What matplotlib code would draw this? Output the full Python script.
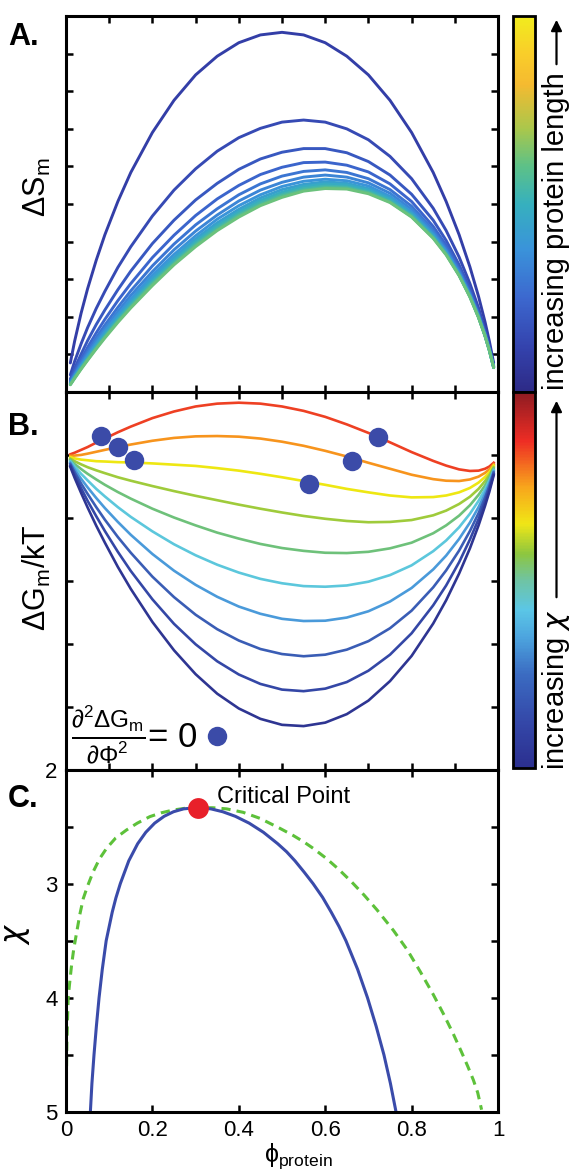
import numpy as np
import matplotlib
matplotlib.use('Agg')
import matplotlib.pyplot as plt
from matplotlib.colors import LinearSegmentedColormap, Normalize
from matplotlib.cm import ScalarMappable
from matplotlib.lines import Line2D
from matplotlib.patches import FancyArrowPatch

plt.rcParams['font.family'] = ['Liberation Sans', 'DejaVu Sans']
plt.rcParams['mathtext.fontset'] = 'dejavusans'

# ---------------- data ----------------
phi = [0.01, 0.02, 0.035, 0.05, 0.07, 0.09, 0.12, 0.15, 0.2, 0.25, 0.3, 0.35, 0.4, 0.45,
       0.5, 0.55, 0.6, 0.65, 0.7, 0.75, 0.8, 0.85, 0.88, 0.91, 0.935, 0.955, 0.97, 0.98, 0.99]

# Panel A: entropy of mixing (x1e-3), protein length N = 1..12
dS_n1 = [56, 98, 152, 199, 254, 303, 367, 423, 500, 562, 611, 647, 673, 688, 693, 688, 673, 647, 611, 562, 500, 423, 367, 303, 241, 184, 135, 98, 56]
dS_n2 = [33, 59, 93, 124, 161, 194, 240, 280, 339, 389, 430, 464, 490, 508, 520, 524, 520, 507, 486, 454, 411, 354, 311, 260, 209, 162, 120, 88, 51]
dS_n3 = [25, 46, 73, 99, 130, 158, 197, 233, 286, 331, 370, 402, 429, 449, 462, 469, 469, 461, 444, 418, 381, 331, 292, 245, 199, 154, 115, 85, 49]
dS_n4 = [21, 39, 64, 86, 114, 140, 176, 209, 259, 302, 340, 372, 398, 419, 433, 442, 443, 437, 424, 401, 367, 319, 283, 238, 193, 151, 113, 83, 49]
dS_n5 = [19, 35, 58, 79, 105, 129, 163, 195, 243, 285, 322, 353, 380, 401, 416, 425, 428, 423, 411, 390, 358, 312, 277, 234, 190, 148, 111, 82, 48]
dS_n6 = [18, 33, 54, 74, 99, 122, 155, 186, 232, 274, 310, 341, 368, 389, 404, 414, 418, 414, 403, 383, 352, 308, 273, 231, 188, 147, 110, 82, 48]
dS_n7 = [17, 31, 51, 70, 94, 117, 149, 179, 225, 265, 301, 333, 359, 380, 396, 406, 410, 407, 397, 377, 347, 304, 271, 229, 187, 146, 109, 81, 47]
dS_n8 = [16, 30, 49, 67, 91, 113, 144, 174, 219, 259, 295, 326, 352, 374, 390, 400, 405, 402, 392, 374, 344, 302, 268, 227, 186, 145, 109, 81, 47]
dS_n9 = [15, 28, 47, 65, 88, 110, 141, 170, 214, 254, 290, 321, 347, 369, 385, 396, 401, 399, 389, 371, 342, 300, 267, 226, 185, 144, 108, 80, 47]
dS_n10 = [15, 28, 46, 64, 86, 107, 138, 167, 211, 250, 286, 317, 343, 365, 381, 392, 397, 395, 386, 368, 340, 298, 266, 225, 184, 144, 108, 80, 47]
dS_n11 = [14, 27, 45, 62, 84, 106, 136, 164, 208, 247, 283, 313, 340, 361, 378, 389, 394, 393, 384, 366, 338, 297, 265, 225, 183, 144, 108, 80, 47]
dS_n12 = [14, 26, 44, 61, 83, 104, 134, 162, 205, 245, 280, 311, 337, 359, 375, 387, 392, 391, 382, 365, 337, 296, 264, 224, 183, 143, 108, 80, 47]

# Panel B: free energy of mixing (x1e-3), chi from high (red) to low (dark blue)
dG_c1 = [2, 7, 16, 25, 39, 52, 72, 90, 117, 138, 154, 163, 166, 163, 154, 140, 121, 97, 70, 40, 9, -19, -34, -46, -51, -50, -44, -37, -25]
dG_c2 = [-3, -2, 0, 4, 10, 16, 25, 33, 45, 54, 59, 60, 58, 52, 42, 29, 13, -5, -25, -44, -63, -77, -82, -83, -78, -69, -57, -46, -30]
dG_c3 = [-7, -11, -15, -17, -20, -21, -23, -24, -27, -31, -35, -42, -50, -60, -71, -83, -95, -108, -119, -129, -135, -134, -129, -119, -105, -88, -70, -55, -34]
dG_c4 = [-12, -20, -30, -39, -49, -58, -71, -82, -99, -115, -130, -144, -158, -171, -183, -194, -203, -210, -214, -213, -207, -192, -177, -156, -133, -108, -83, -64, -39]
dG_c5 = [-16, -29, -45, -60, -78, -95, -118, -139, -171, -199, -224, -247, -266, -283, -296, -305, -311, -312, -308, -297, -279, -249, -224, -193, -160, -127, -97, -72, -43]
dG_c6 = [-20, -37, -60, -81, -108, -132, -166, -197, -243, -284, -319, -349, -374, -394, -408, -417, -419, -415, -403, -382, -351, -306, -272, -230, -187, -146, -110, -81, -48]
dG_c7 = [-25, -46, -76, -103, -137, -169, -213, -254, -315, -368, -413, -451, -482, -505, -521, -528, -527, -517, -497, -466, -423, -364, -320, -267, -215, -166, -123, -90, -52]
dG_c8 = [-29, -55, -91, -124, -166, -206, -261, -311, -387, -452, -508, -554, -590, -617, -633, -640, -635, -619, -592, -551, -495, -421, -367, -304, -242, -185, -136, -99, -56]
dG_c9 = [-34, -64, -106, -146, -195, -242, -308, -369, -459, -537, -602, -656, -698, -728, -746, -751, -743, -722, -686, -635, -567, -478, -415, -341, -269, -204, -149, -108, -61]
dG_c10 = [-38, -73, -121, -167, -225, -279, -356, -426, -531, -621, -697, -759, -806, -839, -858, -862, -851, -824, -781, -719, -639, -536, -462, -377, -297, -224, -162, -117, -65]

# spinodal points marked on the three top curves
spin_phi = [0.080, 0.7215, 0.121, 0.663, 0.158, 0.563]
spin_G = [0.0597, 0.0565, 0.0246, -0.0182, -0.0150, -0.0925]

# Panel C: phase diagram
blue_phi = [0.0564, 0.0600, 0.0648, 0.0703, 0.0765, 0.0840, 0.0930, 0.1070, 0.1155, 0.1257, 0.1453, 0.1659,
            0.1847, 0.2052, 0.2271, 0.2489, 0.2719, 0.3028, 0.3357, 0.3628, 0.3920, 0.4240, 0.4570, 0.4900,
            0.5105, 0.5300, 0.5515, 0.5720, 0.5940, 0.6140, 0.6320, 0.6480, 0.6750, 0.6980, 0.7180, 0.7360,
            0.7510, 0.7640]
blue_chi = [5.0, 4.75, 4.5, 4.25, 4.0, 3.75, 3.5, 3.25, 3.125, 3.0, 2.8, 2.65,
            2.55, 2.47, 2.41, 2.37, 2.345, 2.334, 2.345, 2.37, 2.41, 2.47, 2.55, 2.65,
            2.72, 2.8, 2.9, 3.0, 3.12, 3.25, 3.375, 3.5, 3.75, 4.0, 4.25, 4.5,
            4.75, 5.0]
green_phi = [0.0, 0.002, 0.005, 0.009, 0.013, 0.018, 0.025, 0.032, 0.040, 0.050, 0.063, 0.078, 0.094, 0.115,
             0.140, 0.165, 0.194, 0.220, 0.248, 0.275, 0.306, 0.340, 0.372, 0.410, 0.449, 0.495, 0.526, 0.550,
             0.572, 0.603, 0.630, 0.660, 0.690, 0.720, 0.758, 0.790, 0.820, 0.850, 0.875, 0.897, 0.915, 0.930,
             0.943, 0.953, 0.962]
green_chi = [5.0, 4.4, 4.0, 3.85, 3.71, 3.57, 3.42, 3.27, 3.13, 3.02, 2.895, 2.78, 2.69, 2.60,
             2.53, 2.47, 2.413, 2.38, 2.355, 2.34, 2.334, 2.335, 2.345, 2.375, 2.428, 2.515, 2.578, 2.633,
             2.69, 2.78, 2.87, 2.98, 3.10, 3.23, 3.41, 3.58, 3.77, 3.97, 4.15, 4.32, 4.47, 4.60,
             4.72, 4.83, 4.98]
crit_phi, crit_chi = 0.306, 2.334

dS_curves = [dS_n1, dS_n2, dS_n3, dS_n4, dS_n5, dS_n6, dS_n7, dS_n8, dS_n9, dS_n10, dS_n11, dS_n12]
dG_curves = [dG_c1, dG_c2, dG_c3, dG_c4, dG_c5, dG_c6, dG_c7, dG_c8, dG_c9, dG_c10]

# ---------------- layout ----------------
W, H = 573, 1172
fig = plt.figure(figsize=(W / 100, H / 100), dpi=100)
fx = lambda p: p / W
fy = lambda p: 1 - p / H
L, R = 66, 498
axA = fig.add_axes([fx(L), fy(392), (R - L) / W, (392 - 16) / H])
axB = fig.add_axes([fx(L), fy(769.5), (R - L) / W, (769.5 - 392) / H])
axC = fig.add_axes([fx(L), fy(1112), (R - L) / W, (1112 - 769.5) / H])

parula = LinearSegmentedColormap.from_list('parula_like', [
    (0.0, '#2D2A86'), (0.12, '#3443AE'), (0.25, '#3C68CF'), (0.38, '#3A93DA'), (0.5, '#36B0BE'),
    (0.6, '#5CC188'), (0.7, '#A9C74C'), (0.82, '#F5BA30'), (0.9, '#F9CD2A'), (1.0, '#F1EC1D')])
jet = LinearSegmentedColormap.from_list('jet_like', [
    (0.0, '#2B2F8F'), (0.12, '#3447A8'), (0.25, '#3B6CC2'), (0.35, '#4DA6DF'), (0.42, '#5BC6E6'),
    (0.5, '#6FC4A2'), (0.57, '#8DC63F'), (0.65, '#F0E616'), (0.75, '#F8A41C'), (0.87, '#EE2D24'),
    (1.0, '#8E1B22')])

x = np.array(phi)
a_pos = np.linspace(0.1, 0.62, len(dS_curves))
for S, p in zip(dS_curves, a_pos):
    axA.plot(x, np.array(S) / 1000, color=parula(p), lw=2.1, solid_capstyle='round')
axA.set_xlim(0, 1)
axA.set_ylim(0, 376 / 519)

b_colors = ['#EE4023', '#F7941D', '#EEE712', '#9FCB3B', '#6EC17A', '#5CC7DC', '#4A9ADA', '#3A5DB5', '#3447A6', '#2E3592']
for G, c in zip(dG_curves, b_colors):
    axB.plot(x, np.array(G) / 1000, color=c, lw=1.9)
axB.plot(spin_phi, spin_G, 'o', color='#3B4BA8', ms=14, mec='none')
axB.set_xlim(0, 1)
axB.set_ylim(-1.0, 0.2)
h = Line2D([], [], marker='o', ls='none', color='#3B4BA8', ms=14, mec='none')
axB.legend([h], [r'$\mathregular{\frac{\partial^2\Delta G_m}{\partial\Phi^2}}$= 0'], loc='lower left',
           bbox_to_anchor=(0.012, 0.008), frameon=False, markerfirst=False, fontsize=25,
           handlelength=0.8, handletextpad=0.15, borderpad=0, borderaxespad=0)

axC.plot(green_phi, green_chi, color='#5DC13A', lw=2.2, dashes=(3, 2))
axC.plot(blue_phi, blue_chi, color='#3A4BAA', lw=2.2)
axC.plot([crit_phi], [crit_chi], 'o', color='#E8202A', ms=15, mec='none')
axC.text(0.349, 2.245, 'Critical Point', fontsize=17, va='center', ha='left')
axC.set_xlim(0, 1)
axC.set_ylim(5, 2)

for ax in (axA, axB, axC):
    for s in ax.spines.values():
        s.set_linewidth(2.2)
    ax.tick_params(direction='in', length=5, width=1.8, top=True, right=True, labelsize=16, pad=6)
for ax in (axA, axB):
    ax.set_xticks(np.linspace(0, 1, 11))
    ax.set_xticklabels([])
axA.set_yticks(np.linspace(0, 376 / 519, 11))
axA.set_yticklabels([])
axB.set_yticks(np.linspace(-1, 0.2, 7))
axB.set_yticklabels([])
axC.set_xticks(np.linspace(0, 1, 6))
axC.set_xticklabels(['0', '0.2', '0.4', '0.6', '0.8', '1'])
axC.set_yticks(np.linspace(2, 5, 7))
axC.set_yticklabels(['2', '', '3', '', '4', '', '5'])

axA.set_ylabel(r'$\mathregular{\Delta S_m}$', fontsize=22)
axA.yaxis.set_label_coords((53 - L) / 432, (392 - 187) / 376)
axB.set_ylabel(r'$\mathregular{\Delta G_m/kT}$', fontsize=22)
axB.yaxis.set_label_coords((53 - L) / 432, (769.5 - 578) / 377.5)
axC.set_ylabel(r'$\chi$', fontsize=22)
axC.yaxis.set_label_coords((32 - L) / 432, (1112 - 933.5) / 342.5)
axC.set_xlabel(r'$\mathregular{\phi_{protein}}$', fontsize=18)
axC.xaxis.set_label_coords((298 - L) / 432, (1112 - 1141) / 342.5)

for t, yb in (('A.', 45), ('B.', 435), ('C.', 807)):
    fig.text(fx(8), fy(yb), t, fontsize=22, fontweight='bold', va='baseline', ha='left')

caxA = fig.add_axes([fx(513), fy(392), 22 / W, 376 / H])
caxB = fig.add_axes([fx(513), fy(768), 22 / W, 376 / H])
for cax, cm in ((caxA, parula), (caxB, jet)):
    cb = fig.colorbar(ScalarMappable(norm=Normalize(0, 1), cmap=cm), cax=cax)
    cb.set_ticks([])
    cb.outline.set_linewidth(2)

fig.text(fx(556), fy(231), 'increasing protein length', rotation=90, fontsize=21, ha='center', va='center')
fig.text(fx(556), fy(690), r'increasing $\chi$', rotation=90, fontsize=21, ha='center', va='center')
for y0, y1 in ((67, 17), (600, 398)):
    fig.add_artist(FancyArrowPatch((fx(556.5), fy(y0)), (fx(556.5), fy(y1)), transform=fig.transFigure,
                                   arrowstyle='-|>', mutation_scale=16, lw=1.6, color='k'))

fig.savefig('out.png', dpi=100)
